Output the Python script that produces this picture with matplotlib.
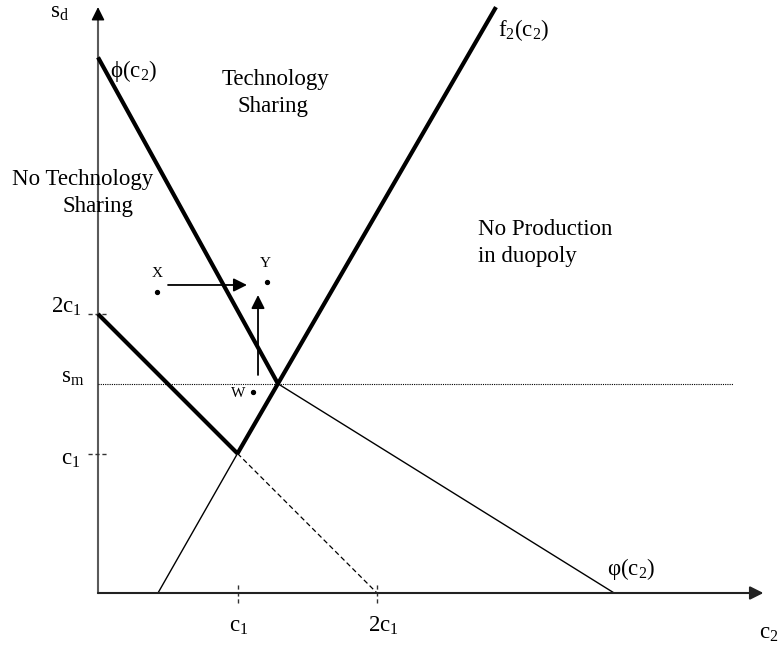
import matplotlib
matplotlib.use("Agg")
import matplotlib.pyplot as plt

plt.rcParams['font.family'] = ['Liberation Serif', 'DejaVu Serif']
plt.rcParams['mathtext.fontset'] = 'custom'
plt.rcParams['mathtext.rm'] = 'Liberation Serif'
plt.rcParams['mathtext.it'] = 'Liberation Serif:italic'
plt.rcParams['mathtext.bf'] = 'Liberation Serif:bold'

# ---- data (units of c1) ----
c1 = 1.0
s_m = 1.5
# phi(c2): thick part then thin continuation
phi_thick_x = [0.0, 1.29]
phi_thick_y = [3.84, 1.5]
phi_thin_x = [1.29, 3.70]
phi_thin_y = [1.5, 0.0]
# f2(c2): thin lower part then thick part
f2_thin_x = [0.43, 1.0]
f2_thin_y = [0.0, 1.0]
f2_thick_x = [1.0, 2.853]
f2_thick_y = [1.0, 4.20]
# lower boundary 2c1 -> c1 (thick) and dashed continuation
low_thick_x = [0.0, 1.0]
low_thick_y = [2.0, 1.0]
low_dash_x = [1.0, 2.0]
low_dash_y = [1.0, 0.0]
# s_m dotted line
sm_x = [0.0, 4.55]
# points
pt_names = ['X', 'Y', 'W']
pt_x = [0.423, 1.211, 1.111]
pt_y = [2.158, 2.229, 1.441]
# arrows (start, end)
arr_h = ((0.502, 2.208), (1.068, 2.208))
arr_v = ((1.147, 1.563), (1.147, 2.136))
# axes extents
x_axis_end = 4.77
y_axis_end = 4.20
tick_vals = [1.0, 2.0]

U = 139.5
fig = plt.figure(figsize=(7.82, 6.49), dpi=100)
ax = fig.add_axes([0, 0, 1, 1])
ax.set_xlim(-98 / U, (782 - 98) / U)
ax.set_ylim((593 - 649) / U, 593 / U)
ax.axis('off')

axc = '#5a5a5a'
# x axis with arrow
ax.annotate('', xy=(x_axis_end, 0), xytext=(0, 0),
            arrowprops=dict(arrowstyle='-|>', mutation_scale=20, lw=1.5,
                            color='#222222', shrinkA=0, shrinkB=0))
# y axis: gray line, black head
head = 11 / U
ax.plot([0, 0], [0, y_axis_end - head], color=axc, lw=1.5)
ax.annotate('', xy=(0, y_axis_end), xytext=(0, y_axis_end - head - 0.01),
            arrowprops=dict(arrowstyle='-|>', mutation_scale=20, lw=1.0,
                            color='black', shrinkA=0, shrinkB=0))

# tick dashes
d = 10 / U
for t in tick_vals:
    ax.plot([-d, d], [t, t], color='#333333', lw=1.0, ls=(0, (3, 2)))
    ax.plot([t, t], [-d, d], color='#333333', lw=1.0, ls=(0, (3, 2)))

# lines
ax.plot(sm_x, [s_m, s_m], color='black', lw=0.8, ls=(0, (1, 1)))
ax.plot(low_dash_x, low_dash_y, color='black', lw=0.9, ls=(0, (4, 2.5)))
ax.plot(phi_thin_x, phi_thin_y, color='black', lw=1.0)
ax.plot(f2_thin_x, f2_thin_y, color='black', lw=1.0)
thick = 3.0
ax.plot(phi_thick_x, phi_thick_y, color='black', lw=thick, solid_capstyle='butt')
ax.plot(f2_thick_x, f2_thick_y, color='black', lw=thick, solid_capstyle='butt')
ax.plot(low_thick_x, low_thick_y, color='black', lw=thick, solid_capstyle='butt')

# points
ax.plot(pt_x, pt_y, 'o', color='black', ms=2.8, ls='none')

# arrows X->Y, W->Y
for (s, e) in (arr_h, arr_v):
    ax.annotate('', xy=e, xytext=s,
                arrowprops=dict(arrowstyle='-|>', mutation_scale=20, lw=1.3,
                                color='black', shrinkA=0, shrinkB=0))

fs = 16.5
def T(x, y, s, **kw):
    kw.setdefault('fontsize', fs)
    kw.setdefault('va', 'baseline')
    ax.text(x, y, s, **kw)

T(-0.344, 4.122, r'$\mathrm{s_d}$')
T(0.086, 3.699, r'$\mathrm{ϕ(c_2)}$')
T(1.269, 3.642, 'Technology', ha='center')
T(1.254, 3.448, 'Sharing', ha='center')
T(-0.616, 2.925, 'No Technology')
T(-0.251, 2.731, 'Sharing')
T(2.724, 2.566, 'No Production')
T(2.724, 2.373, 'in duopoly')
T(2.867, 3.993, r'$\mathrm{f_2(c_2)}$')
T(3.649, 0.129, r'$\mathrm{φ(c_2)}$')
T(4.74, -0.325, r'$\mathrm{c_2}$')
T(-0.337, 2.007, r'$\mathrm{2c_1}$')
T(-0.265, 1.505, r'$\mathrm{s_m}$')
T(-0.265, 0.918, r'$\mathrm{c_1}$')
T(0.939, -0.280, r'$\mathrm{c_1}$')
T(1.935, -0.280, r'$\mathrm{2c_1}$')
T(0.423, 2.265, 'X', ha='center', fontsize=11)
T(1.197, 2.337, 'Y', ha='center', fontsize=11)
T(0.953, 1.405, 'W', fontsize=11)

fig.savefig('out.png', dpi=100)
